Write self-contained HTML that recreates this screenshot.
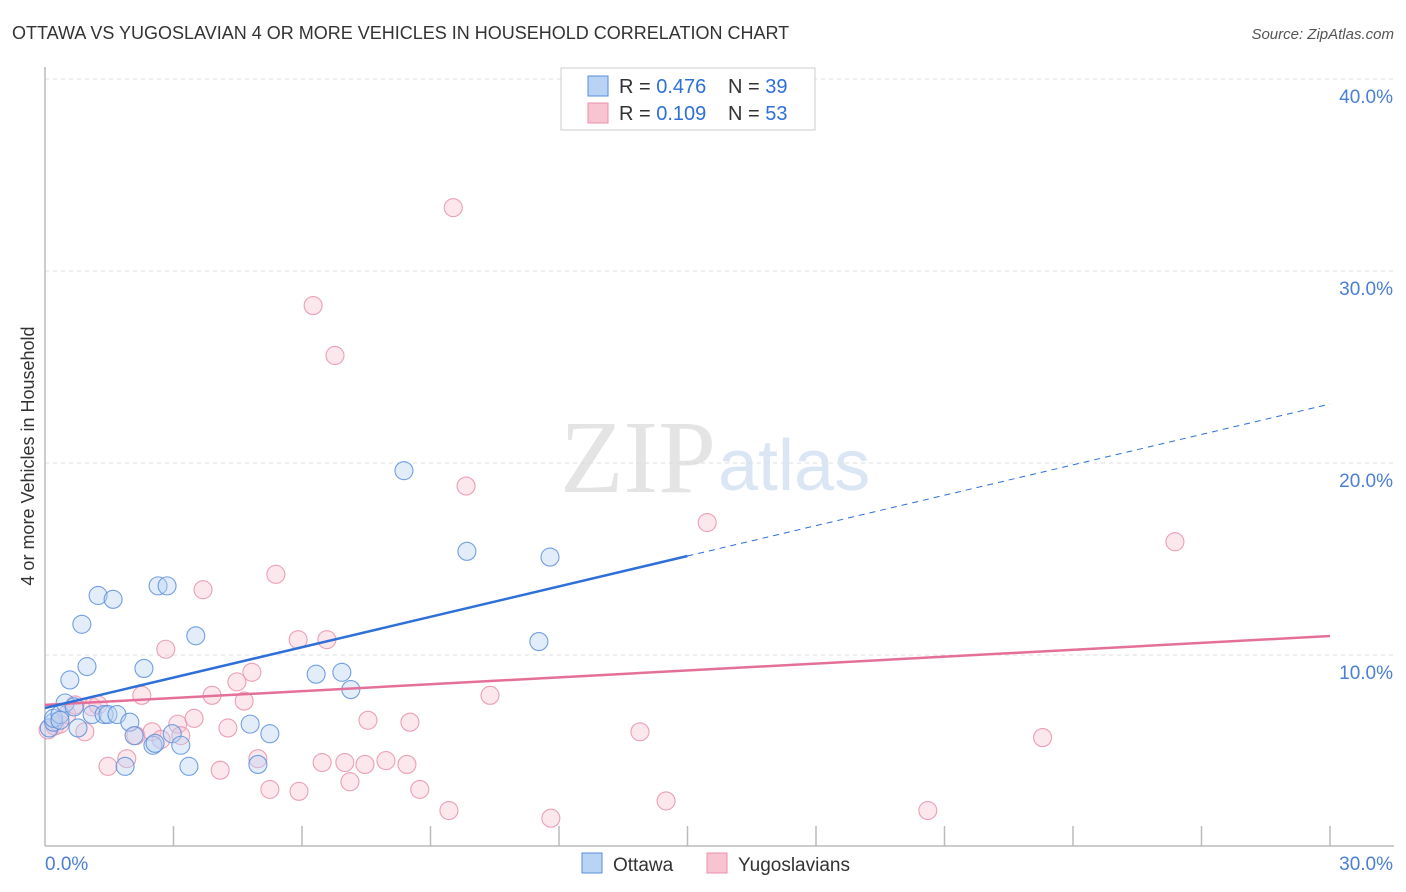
<!DOCTYPE html>
<html><head><meta charset="utf-8"><style>
body{margin:0;background:#fff;font-family:"Liberation Sans",sans-serif}
svg{display:block}
</style></head><body>
<svg id="c" width="1406" height="892"></svg>
<script>
const ottawaX=[0.1,0.2,0.2,0.35,0.47,0.58,0.68,0.77,0.86,0.98,1.1,1.24,1.38,1.59,1.47,1.68,1.87,1.98,2.08,2.31,2.52,2.57,2.64,2.85,2.97,3.17,3.36,3.52,4.79,4.97,5.25,6.33,6.93,7.14,8.38,9.85,11.53,11.79,0.35];
const ottawaY=[6.2,6.5,6.7,6.9,7.5,8.7,7.3,6.2,11.6,9.4,6.9,13.1,6.9,12.9,6.9,6.9,4.2,6.5,5.8,9.3,5.3,5.4,13.6,13.6,5.9,5.3,4.2,11.0,6.4,4.3,5.9,9.0,9.1,8.2,19.6,15.4,10.7,15.1,6.6];
const yugoX=[0.07,0.23,0.35,0.51,0.93,1.1,1.24,1.47,1.91,2.12,2.26,2.5,2.71,2.82,3.1,3.17,3.48,3.69,3.9,4.09,4.27,4.48,4.65,4.83,4.97,5.25,5.39,5.91,5.93,6.26,6.47,6.58,6.77,7.0,7.12,7.47,7.54,7.96,8.45,8.52,8.75,9.43,9.53,9.83,10.39,11.81,13.89,14.5,15.46,20.61,23.29,26.38,0.7];
const yugoY=[6.1,6.3,6.4,6.9,6.0,7.3,7.4,4.2,4.6,5.8,7.9,6.0,5.6,10.3,6.4,5.8,6.7,13.4,7.9,4.0,6.2,8.6,7.6,9.1,4.6,3.0,14.2,10.8,2.9,28.2,4.4,10.8,25.6,4.4,3.4,4.3,6.6,4.5,4.3,6.5,3.0,1.9,33.3,18.8,7.9,1.5,6.0,2.4,16.9,1.9,5.7,15.9,7.4];
const trendB=[7.24,23.07], trendP=[7.40,10.99], solidEndB=15.0;
const yTicks=[10,20,30,40];
const X0=45,X1=1330,YB=847,PY=19.2;
const sx=v=>X0+(X1-X0)*v/30, sy=v=>YB-v*PY;
const NS="http://www.w3.org/2000/svg", svg=document.getElementById('c');
function mk(t,a,p){const e=document.createElementNS(NS,t);for(const k in a)e.setAttribute(k,a[k]);(p||svg).appendChild(e);return e;}
let t=mk('text',{x:12,y:39,'font-size':18,fill:'#333'});t.textContent='OTTAWA VS YUGOSLAVIAN 4 OR MORE VEHICLES IN HOUSEHOLD CORRELATION CHART';

t=mk('text',{x:1394,y:39,'font-size':15,fill:'#555','text-anchor':'end','font-style':'italic'});t.textContent='Source: ZipAtlas.com';

t=mk('text',{x:716,y:492,'font-size':104,fill:'#e4e4e4','text-anchor':'end','font-family':'Liberation Serif'});t.textContent='ZIP';

t=mk('text',{x:718,y:490,'font-size':72,fill:'#dbe6f5'});t.textContent='atlas';

yTicks.forEach(v=>{const y=sy(v);
 let l=mk('line',{x1:X0,x2:1394,y1:y,y2:y,stroke:'#ddd','stroke-dasharray':'4,4'});
 
 let tx=mk('text',{x:1393,y:y+24,'font-size':19,fill:'#4a7fd4','text-anchor':'end'});tx.textContent=v.toFixed(1)+'%';
 });
let a=mk('line',{x1:X0,x2:X0,y1:67,y2:846,stroke:'#bbb','stroke-width':1.5});
a=mk('line',{x1:X0,x2:1394,y1:846,y2:846,stroke:'#bbb','stroke-width':1.5});
for(let i=1;i<=10;i++){const x=sx(i*3);let l=mk('line',{x1:x,x2:x,y1:826,y2:846,stroke:'#bbb','stroke-width':1.5});
 }
t=mk('text',{x:45,y:870,'font-size':19,fill:'#4a7fd4'});t.textContent='0.0%';
t=mk('text',{x:1393,y:870,'font-size':19,fill:'#4a7fd4','text-anchor':'end'});t.textContent='30.0%';
t=mk('text',{x:0,y:0,'font-size':18,fill:'#333','text-anchor':'middle',transform:'translate(34,456) rotate(-90)'});t.textContent='4 or more Vehicles in Household';

function pts(X,Y,fill,stroke,name){X.forEach((v,i)=>{const c=mk('circle',{cx:sx(v),cy:sy(Y[i]),r:9,fill:fill,stroke:stroke,'stroke-width':1.1,'fill-opacity':0.4,'stroke-opacity':0.85});
 });}
pts(yugoX,yugoY,'#f8c4d2','#e890aa','yugoslavian-point');
pts(ottawaX,ottawaY,'#b8d3f3','#5a8fdc','ottawa-point');
const tb=x=>trendB[0]+(trendB[1]-trendB[0])*x/30, tp=x=>trendP[0]+(trendP[1]-trendP[0])*x/30;
let l=mk('line',{x1:sx(0),y1:sy(tp(0)),x2:sx(30),y2:sy(tp(30)),stroke:'#e4709a','stroke-width':2.5});
l=mk('line',{x1:sx(0),y1:sy(tb(0)),x2:sx(solidEndB),y2:sy(tb(solidEndB)),stroke:'#2e6fd8','stroke-width':2.5});
l=mk('line',{x1:sx(solidEndB),y1:sy(tb(solidEndB)),x2:sx(30),y2:sy(tb(30)),stroke:'#2e6fd8','stroke-width':1,'stroke-dasharray':'6,5'});
const g=mk('g',{});
mk('rect',{x:561,y:68,width:254,height:62,fill:'#fff',stroke:'#ccc'},g);
[[0.476,39,'#b8d3f3','#5a8fdc'],[0.109,53,'#f8c4d2','#e890aa']].forEach((r,i)=>{const y=86+i*27;
 mk('rect',{x:588,y:y-10,width:20,height:20,fill:r[2],stroke:r[3]},g);
 const tx=mk('text',{x:619,y:y+7,'font-size':20,fill:'#333'},g);
 tx.innerHTML='R = <tspan fill="#2e6fd8">'+r[0].toFixed(3)+'</tspan><tspan x="728">N = </tspan><tspan fill="#2e6fd8">'+r[1]+'</tspan>';
 });
[['Ottawa',582,'#b8d3f3','#5a8fdc'],['Yugoslavians',707,'#f8c4d2','#e890aa']].forEach(r=>{
 const gg=mk('g',{});
 mk('rect',{x:r[1],y:853,width:20,height:20,fill:r[2],stroke:r[3]},gg);
 const tx=mk('text',{x:r[1]+31,y:871,'font-size':19,fill:'#333'},gg);tx.textContent=r[0];});
</script>
</body></html>
